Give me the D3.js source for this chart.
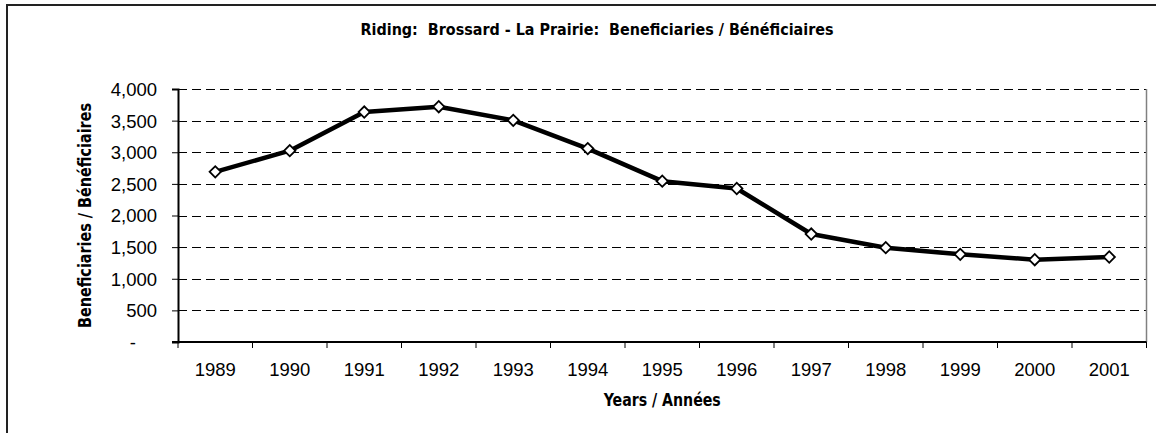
<!DOCTYPE html>
<meta charset="utf-8">
<script src="https://d3js.org/d3.v7.min.js"></script>
<style>
body { margin: 0; background: #fff; }
text { fill: #000; }
</style>
<body>
<div id="chart"></div>
<script>
// data
var years = ["1989", "1990", "1991", "1992", "1993", "1994", "1995", "1996", "1997", "1998", "1999", "2000", "2001"];
var beneficiaries = [2690, 3025, 3636, 3720, 3505, 3058, 2543, 2427, 1707, 1491, 1386, 1301, 1344];
var yTicks = [0, 500, 1000, 1500, 2000, 2500, 3000, 3500, 4000];

var titleText = "Riding:  Brossard - La Prairie:  Beneficiaries / Bénéficiaires";
var xTitle = "Years / Années";
var yTitle = "Beneficiaries / Bénéficiaires";

var W = 1156, H = 433;
var plot = {left: 178, right: 1146.5, top: 89, bottom: 342};
var narrow = "'Liberation Sans Narrow', 'Arial Narrow', 'DejaVu Sans Condensed', 'Liberation Sans', sans-serif";
var plain = "'Liberation Sans', Arial, sans-serif";

var svg = d3.select("#chart").append("svg")
  .attr("width", W)
  .attr("height", H);

// outer frame (runs off the right and bottom edges)
svg.append("rect")
  .attr("x", 7).attr("y", 5)
  .attr("width", 1200).attr("height", 500)
  .style("fill", "none")
  .style("stroke", "#222")
  .style("stroke-width", 2);

var x = d3.scaleBand()
  .domain(years)
  .range([plot.left, plot.right])
  .padding(0);

var y = d3.scaleLinear()
  .domain([0, 4000])
  .range([plot.bottom, plot.top]);

// dashed gridlines
svg.selectAll(".grid")
  .data(yTicks.filter(function(d) { return d > 0; }))
  .enter().append("line")
  .attr("class", "grid")
  .attr("x1", plot.left)
  .attr("x2", plot.right)
  .attr("y1", function(d) { return Math.round(y(d)) + 0.5; })
  .attr("y2", function(d) { return Math.round(y(d)) + 0.5; })
  .style("stroke", "#000")
  .style("stroke-width", 1)
  .style("stroke-dasharray", "9,5");

// right border of plot
svg.append("line")
  .attr("x1", plot.right).attr("x2", plot.right)
  .attr("y1", plot.top).attr("y2", plot.bottom)
  .style("stroke", "#808080")
  .style("stroke-width", 1.5);

// y axis
var yAxis = svg.append("g")
  .attr("transform", "translate(" + plot.left + ",0)")
  .call(d3.axisLeft(y)
    .tickValues(yTicks)
    .tickSize(6)
    .tickPadding(15)
    .tickFormat(function(d) { return d === 0 ? "-" : d3.format(",")(d); }));
yAxis.select(".domain").style("stroke", "#000").style("stroke-width", 2);
yAxis.selectAll(".tick line").style("stroke", "#000");
yAxis.selectAll(".tick text")
  .style("font-family", plain)
  .style("font-size", "18.5px")
  .style("fill", "#000")
  .attr("dy", "0.35em")
  .attr("x", function(d) { return d === 0 ? -42 : -21; });

// x axis: baseline, boundary ticks, labels
svg.append("line")
  .attr("x1", plot.left - 6).attr("x2", plot.right)
  .attr("y1", plot.bottom).attr("y2", plot.bottom)
  .style("stroke", "#000")
  .style("stroke-width", 2);

var bounds = years.map(function(d) { return x(d); }).concat([x.range()[1]]);
svg.selectAll(".xtick")
  .data(bounds)
  .enter().append("line")
  .attr("class", "xtick")
  .attr("x1", function(d) { return d; })
  .attr("x2", function(d) { return d; })
  .attr("y1", plot.bottom)
  .attr("y2", plot.bottom + 6)
  .style("stroke", "#000")
  .style("stroke-width", 1);

svg.selectAll(".xlabel")
  .data(years)
  .enter().append("text")
  .attr("class", "xlabel")
  .attr("x", function(d) { return x(d) + x.bandwidth() / 2; })
  .attr("y", plot.bottom + 34)
  .style("text-anchor", "middle")
  .style("font-family", plain)
  .style("font-size", "18.5px")
  .text(function(d) { return d; });

// the series
var line = d3.line()
  .x(function(d, i) { return x(years[i]) + x.bandwidth() / 2; })
  .y(function(d) { return y(d); });

svg.append("path")
  .datum(beneficiaries)
  .attr("d", line)
  .style("fill", "none")
  .style("stroke", "#000")
  .style("stroke-width", 4.5)
  .style("stroke-linejoin", "round");

var diamond = d3.symbol().type(d3.symbolSquare).size(64);
svg.selectAll(".marker")
  .data(beneficiaries)
  .enter().append("path")
  .attr("class", "marker")
  .attr("d", diamond)
  .attr("transform", function(d, i) {
    return "translate(" + (x(years[i]) + x.bandwidth() / 2) + "," + y(d) + ") rotate(45)";
  })
  .style("fill", "#fff")
  .style("stroke", "#000")
  .style("stroke-width", 1.8);

// titles
svg.append("text")
  .attr("x", 597)
  .attr("y", 35)
  .style("text-anchor", "middle")
  .style("white-space", "pre")
  .style("font-family", narrow)
  .style("font-weight", "bold")
  .style("font-size", "16.5px")
  .attr("textLength", 473)
  .attr("lengthAdjust", "spacingAndGlyphs")
  .text(titleText);

svg.append("text")
  .attr("x", (plot.left + plot.right) / 2)
  .attr("y", 406)
  .style("text-anchor", "middle")
  .style("font-family", narrow)
  .style("font-weight", "bold")
  .style("font-size", "17.5px")
  .attr("textLength", 117)
  .attr("lengthAdjust", "spacingAndGlyphs")
  .text(xTitle);

svg.append("text")
  .attr("transform", "translate(91," + ((plot.top + plot.bottom) / 2) + ") rotate(-90)")
  .style("text-anchor", "middle")
  .style("font-family", narrow)
  .style("font-weight", "bold")
  .style("font-size", "17px")
  .attr("textLength", 225)
  .attr("lengthAdjust", "spacingAndGlyphs")
  .text(yTitle);
</script>
</body>
